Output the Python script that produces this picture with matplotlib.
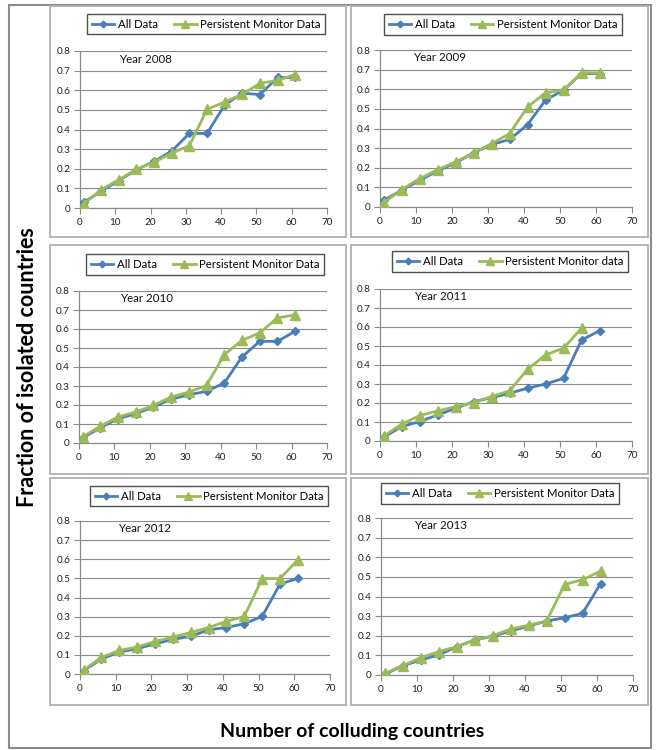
import matplotlib
matplotlib.use("Agg")
import matplotlib.pyplot as plt
from matplotlib.patches import Rectangle

plt.rcParams['font.family'] = ['Lato', 'DejaVu Sans']

x_vals = [1, 6, 11, 16, 21, 26, 31, 36, 41, 46, 51, 56, 61]

years = ["Year 2008", "Year 2009", "Year 2010", "Year 2011", "Year 2012", "Year 2013"]

all_2008 = [0.029, 0.085, 0.14, 0.195, 0.237, 0.29, 0.38, 0.38, 0.525, 0.585, 0.578, 0.665, 0.665]
pm_2008 = [0.02, 0.093, 0.144, 0.198, 0.233, 0.28, 0.318, 0.503, 0.54, 0.58, 0.635, 0.65, 0.68]
all_2009 = [0.034, 0.085, 0.136, 0.184, 0.225, 0.276, 0.318, 0.344, 0.42, 0.545, 0.596, 0.68, 0.68]
pm_2009 = [0.022, 0.088, 0.145, 0.19, 0.23, 0.276, 0.323, 0.374, 0.51, 0.582, 0.596, 0.684, 0.684]
all_2010 = [0.026, 0.08, 0.128, 0.154, 0.19, 0.23, 0.254, 0.272, 0.316, 0.453, 0.535, 0.535, 0.588]
pm_2010 = [0.032, 0.088, 0.137, 0.163, 0.198, 0.242, 0.268, 0.303, 0.465, 0.54, 0.58, 0.658, 0.675]
all_2011 = [0.019, 0.076, 0.102, 0.137, 0.172, 0.207, 0.228, 0.251, 0.278, 0.3, 0.33, 0.532, 0.58]
pm_2011 = [0.026, 0.088, 0.134, 0.158, 0.181, 0.202, 0.234, 0.264, 0.378, 0.453, 0.489, 0.594]
all_2012 = [0.017, 0.078, 0.115, 0.132, 0.158, 0.181, 0.197, 0.231, 0.243, 0.263, 0.301, 0.47, 0.50]
pm_2012 = [0.02, 0.087, 0.123, 0.141, 0.17, 0.193, 0.217, 0.243, 0.275, 0.301, 0.499, 0.499, 0.597]
all_2013 = [0.003, 0.047, 0.076, 0.102, 0.144, 0.178, 0.198, 0.224, 0.249, 0.275, 0.292, 0.314, 0.466]
pm_2013 = [0.008, 0.047, 0.088, 0.119, 0.144, 0.178, 0.2, 0.234, 0.254, 0.275, 0.461, 0.486, 0.529]

all_series = [all_2008, all_2009, all_2010, all_2011, all_2012, all_2013]
pm_series = [pm_2008, pm_2009, pm_2010, pm_2011, pm_2012, pm_2013]
pm_labels = ["Persistent Monitor Data", "Persistent Monitor Data", "Persistent Monitor Data",
             "Persistent Monitor data", "Persistent Monitor Data", "Persistent Monitor Data"]

x_ticks = [0, 10, 20, 30, 40, 50, 60, 70]
y_ticks = [0, 0.1, 0.2, 0.3, 0.4, 0.5, 0.6, 0.7, 0.8]
y_ticklabels = ["0", "0.1", "0.2", "0.3", "0.4", "0.5", "0.6", "0.7", "0.8"]

W, H = 657, 750
fig = plt.figure(figsize=(W / 100, H / 100), dpi=100)

def fr(x0, x1, y0, y1):
    return [x0 / W, 1 - y1 / H, (x1 - x0) / W, (y1 - y0) / H]

# outer frame
fig.patches.append(Rectangle((9 / W, 1 - 748 / H), (651 - 9) / W, (748 - 5) / H,
                             transform=fig.transFigure, fill=False, edgecolor="#8c8c8c", lw=1.5))

panel_frames = [(50, 346, 6, 237), (351, 648, 6, 237),
                (50, 346, 245, 474), (351, 648, 245, 474),
                (50, 346, 478, 705), (351, 648, 478, 705)]
for (x0, x1, y0, y1) in panel_frames:
    fig.patches.append(Rectangle((x0 / W, 1 - y1 / H), (x1 - x0) / W, (y1 - y0) / H,
                                 transform=fig.transFigure, fill=False, edgecolor="#b0b0b0", lw=1.3))

axes_px = [(80, 327, 51, 208), (380, 632, 50, 207),
           (79, 327, 291, 443), (380, 632, 289, 441),
           (80, 330, 521, 674), (381, 633, 518, 675)]
legend_px = [(206, 24), (503, 24.5), (205, 264.5), (510, 261.5), (209, 496), (500, 493.5)]
year_pos = [(11, 0.757), (9.2, 0.762), (11.6, 0.762), (9.4, 0.762), (10.6, 0.762), (9.2, 0.762)]

blue = "#4a7ebb"
green = "#9bbb59"
grid_c = "#8a8a8a"

for i in range(6):
    ax = fig.add_axes(fr(*axes_px[i]))
    xs_pm = x_vals[:len(pm_series[i])]
    l1, = ax.plot(x_vals, all_series[i], color=blue, lw=2.0, marker="D", ms=4.0,
                  mfc=blue, mec=blue, label="All Data", zorder=3)
    l2, = ax.plot(xs_pm, pm_series[i], color=green, lw=2.0, marker="^", ms=6.5,
                  mfc=green, mec=green, label=pm_labels[i], zorder=4)
    ax.set_xlim(0, 70)
    ax.set_ylim(0, 0.8)
    ax.set_xticks(x_ticks)
    ax.set_yticks(y_ticks)
    ax.set_yticklabels(y_ticklabels)
    ax.tick_params(axis="both", labelsize=7.2, colors="#222222", length=4, width=0.8,
                   direction="out", pad=3)
    ax.tick_params(axis="both", color=grid_c)
    for s in ["top", "right"]:
        ax.spines[s].set_visible(False)
    for s in ["left", "bottom"]:
        ax.spines[s].set_color(grid_c)
        ax.spines[s].set_linewidth(0.9)
    ax.yaxis.grid(True, color=grid_c, lw=0.8)
    ax.set_axisbelow(True)
    ax.patch.set_alpha(0)
    ax.text(year_pos[i][0], year_pos[i][1], years[i], fontsize=8.3, ha="left", va="center",
            color="#111111")
    cx, cy = legend_px[i]
    leg = fig.legend(handles=[l1, l2], loc="center", bbox_to_anchor=(cx / W, 1 - cy / H),
                     ncol=2, fontsize=8.2, frameon=True, fancybox=False, edgecolor="#222222",
                     handlelength=2.0, columnspacing=1.4, handletextpad=0.3,
                     borderpad=0.4, markerscale=0.85)
    leg.get_frame().set_linewidth(1.0)

fig.text(28 / W, 1 - 367 / H, "Fraction of isolated countries", rotation=90, ha="center",
         va="center", fontsize=15.5, fontweight="bold", color="#000000")
fig.text(352 / W, 1 - 731 / H, "Number of colluding countries", ha="center", va="center",
         fontsize=14, fontweight="bold", color="#000000")

fig.savefig("out.png", dpi=100, facecolor="white")
